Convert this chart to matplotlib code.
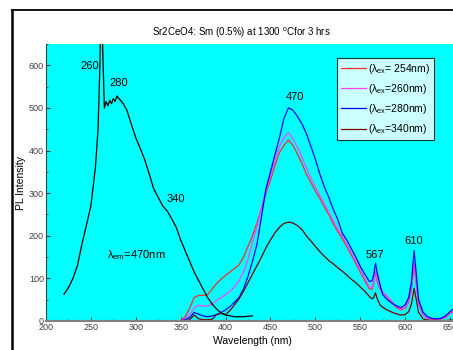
import numpy as np
import matplotlib
matplotlib.use("Agg")
import matplotlib.pyplot as plt
from matplotlib.lines import Line2D
from matplotlib.ticker import MultipleLocator

plt.rcParams['font.family'] = ['Liberation Sans', 'DejaVu Sans']

# excitation spectrum (lambda_em = 470 nm)
exc_wl = [220, 225, 230, 235, 240, 245, 250, 255, 258, 260, 261, 262, 263, 265, 267,
          269, 271, 273, 275, 277, 279, 281, 283, 286, 290, 295, 300, 305, 310, 315,
          320, 325, 330, 335, 340, 345, 350, 355, 360, 365, 370, 375, 380, 385, 390,
          395, 400, 410, 420, 430]
exc_int = [63, 78, 100, 130, 180, 225, 270, 360, 450, 600, 720, 760, 650, 500, 515,
           505, 518, 510, 522, 515, 528, 522, 518, 510, 495, 462, 430, 405, 378, 345,
           310, 290, 270, 258, 240, 220, 190, 165, 140, 115, 95, 75, 55, 40, 28,
           19, 14, 10, 10, 12]

# emission spectra
em_wl = [350, 355, 360, 365, 370, 375, 380, 385, 390, 395, 400, 405, 410, 415, 420,
         425, 430, 435, 440, 445, 450, 455, 460, 465, 470, 475, 480, 485, 490, 495,
         500, 505, 510, 515, 520, 525, 530, 535, 540, 545, 550, 555, 560, 563, 565,
         567, 569, 572, 575, 580, 585, 590, 595, 600, 604, 607, 610, 612, 615, 620,
         625, 630, 635, 640, 645, 650, 655]
em_254 = [0, 10, 30, 55, 60, 60, 62, 75, 88, 98, 107, 115, 123, 132, 150,
          175, 200, 230, 265, 300, 330, 365, 395, 412, 425, 412, 392, 370, 345, 325,
          305, 288, 268, 250, 228, 210, 193, 175, 155, 135, 115, 95, 76, 74, 88,
          116, 92, 75, 66, 56, 44, 32, 26, 30, 45, 75, 130, 95, 40, 15,
          6, 4, 4, 5, 8, 18, 22]
em_260 = [0, 5, 15, 30, 37, 35, 35, 40, 48, 55, 62, 70, 80, 95, 115,
          145, 185, 222, 265, 305, 340, 378, 410, 430, 442, 428, 408, 385, 360, 335,
          315, 295, 275, 255, 235, 215, 198, 180, 160, 140, 120, 100, 80, 78, 92,
          118, 95, 78, 68, 58, 46, 34, 28, 32, 48, 80, 137, 100, 42, 16,
          7, 5, 5, 6, 9, 20, 24]
em_280 = [0, 3, 8, 20, 16, 12, 10, 12, 15, 20, 26, 34, 44, 55, 75,
          105, 140, 180, 245, 310, 350, 390, 430, 475, 500, 495, 480, 463, 440, 410,
          380, 345, 315, 290, 262, 238, 206, 190, 170, 150, 128, 110, 93, 94, 108,
          136, 112, 85, 62, 50, 42, 36, 31, 38, 55, 90, 165, 120, 50, 20,
          10, 6, 5, 6, 12, 22, 30]
em_340 = [0, 0, 3, 14, 5, 3, 3, 4, 15, 18, 15, 25, 38, 52, 70,
          90, 110, 130, 150, 172, 190, 207, 220, 229, 232, 230, 224, 215, 200, 188,
          175, 163, 152, 142, 134, 125, 117, 108, 98, 90, 80, 70, 58, 52, 55,
          66, 52, 38, 32, 26, 21, 17, 14, 15, 22, 40, 77, 55, 20, 5,
          2, 1, 1, 1, 1, 2, 2]

labels = ["(λ$_{\\mathregular{ex}}$= 254nm)", "(λ$_{\\mathregular{ex}}$=260nm)",
          "(λ$_{\\mathregular{ex}}$=280nm)", "(λ$_{\\mathregular{ex}}$=340nm)"]
colors = ['#ff2a2a', '#ff40ff', '#0000ff', '#800000']

W, H = 453, 350
fig = plt.figure(figsize=(W / 100, H / 100), dpi=100)
ax = fig.add_axes([46 / W, 1 - 321 / H, (459 - 46) / W, (321 - 44) / H])
ax.set_facecolor('#00ffff')

for ys, c, lab in zip([em_254, em_260, em_280, em_340], colors, labels):
    ax.plot(em_wl, ys, color=c, lw=0.9, label=lab)
ax.plot(exc_wl, exc_int, color='black', lw=0.9)

ax.set_xlim(200, 660)
ax.set_ylim(0, 650)
ax.xaxis.set_major_locator(MultipleLocator(50))
ax.xaxis.set_minor_locator(MultipleLocator(25))
ax.yaxis.set_major_locator(MultipleLocator(100))
ax.yaxis.set_minor_locator(MultipleLocator(50))
ax.tick_params(which='both', direction='in', labelsize=6.5, colors='#404040', pad=1.5)
ax.tick_params(which='major', length=3)
ax.tick_params(which='minor', length=1.5)
for s in ['top', 'right']:
    ax.spines[s].set_visible(False)
ax.spines['left'].set_color('#404040')
ax.spines['bottom'].set_color('#808080')
ax.spines['bottom'].set_linewidth(1.5)

ax.set_xlabel('Wavelength (nm)', fontsize=7.5, labelpad=3)
ax.set_ylabel('PL Intensity', fontsize=7.5, labelpad=2)

fs = 8
ax.text(249, 598, '260', fontsize=fs, ha='center', va='center')
ax.text(281, 558, '280', fontsize=fs, ha='center', va='center')
ax.text(345, 286, '340', fontsize=fs, ha='center', va='center')
ax.text(268, 155, 'λ$_{\\mathregular{em}}$=470nm', fontsize=fs, ha='left', va='center')
ax.text(477, 525, '470', fontsize=fs, ha='center', va='center')
ax.text(566, 155, '567', fontsize=fs, ha='center', va='center')
ax.text(609, 188, '610', fontsize=fs, ha='center', va='center')

leg = ax.legend(loc='upper left', bbox_to_anchor=(337 / W, 1 - 58 / H),
                bbox_transform=fig.transFigure, borderaxespad=0, fontsize=7.5,
                frameon=True, fancybox=False, handlelength=2.4, handletextpad=0.25,
                labelspacing=0.6, borderpad=0.35)
leg.get_frame().set_edgecolor('black')
leg.get_frame().set_linewidth(0.8)

fig.text(241 / W, 1 - 33 / H, 'Sr2CeO4: Sm (0.5%) at 1300 $^{\\mathregular{o}}$Cfor 3 hrs',
         fontsize=7, ha='center', va='center')

# outer frame lines
fig.add_artist(Line2D([12 / W, 12 / W], [0, 1 - 10 / H], transform=fig.transFigure,
                      color='black', lw=1.8))
fig.add_artist(Line2D([12 / W, 1], [1 - 10 / H, 1 - 10 / H], transform=fig.transFigure,
                      color='black', lw=1.3))

fig.savefig('out.png', dpi=100)
